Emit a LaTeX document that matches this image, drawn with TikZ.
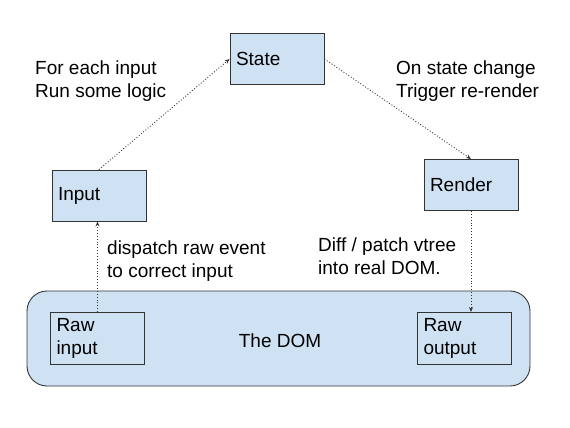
\documentclass[tikz,border=0pt]{standalone}
\usepackage{fontspec}
\setmainfont{Liberation Sans}
\usetikzlibrary{arrows.meta}
\definecolor{boxfill}{HTML}{CFE2F3}
\definecolor{boxline}{HTML}{333333}
\begin{document}
\begin{tikzpicture}[x=1pt,y=-1pt,
  txt/.style={font=\fontsize{19}{23}\selectfont},
  box/.style={txt,draw=boxline,fill=boxfill,line width=0.9pt,minimum width=94pt,minimum height=51pt,
    text width=82pt,align=left,inner sep=6pt},
  lbl/.style={txt,align=left,inner sep=0pt,anchor=base west},
  conn/.style={dotted,line width=0.9pt,draw=boxline,-{Stealth[length=5pt,width=4pt]}}]
\useasboundingbox (0,0) rectangle (570,428);
\node[draw=boxline,fill=boxfill,line width=0.9pt,rounded corners=20pt,minimum width=503pt,minimum height=95pt] (dom) at (278.5,338.5) {};
\node[txt,anchor=base] (domlbl) at (280,347) {The DOM};
\node[box] (state) at (277,59) {State};
\node[box] (input) at (99,195.5) {Input};
\node[box] (render) at (471,185) {Render};
\node[box] (rawin) at (97.5,338.5) {Raw\\input};
\node[box] (rawout) at (464.5,338.5) {Raw\\output};
\node[lbl] (t1) at (35,97) {For each input\\Run some logic};
\node[lbl] (t2) at (396,97) {On state change\\Trigger re-render};
\node[lbl] (t3) at (107,277) {dispatch raw event\\to correct input};
\node[lbl] (t4) at (318,274) {Diff / patch vtree\\into real DOM.};
\draw[conn] (input.north) -- (state.west);
\draw[conn] (state.east) -- (render.north);
\draw[conn] (rawin.north) -- (rawin.north |- input.south);
\draw[conn] (render.south) -- (render.south |- rawout.north);
\end{tikzpicture}
\end{document}
